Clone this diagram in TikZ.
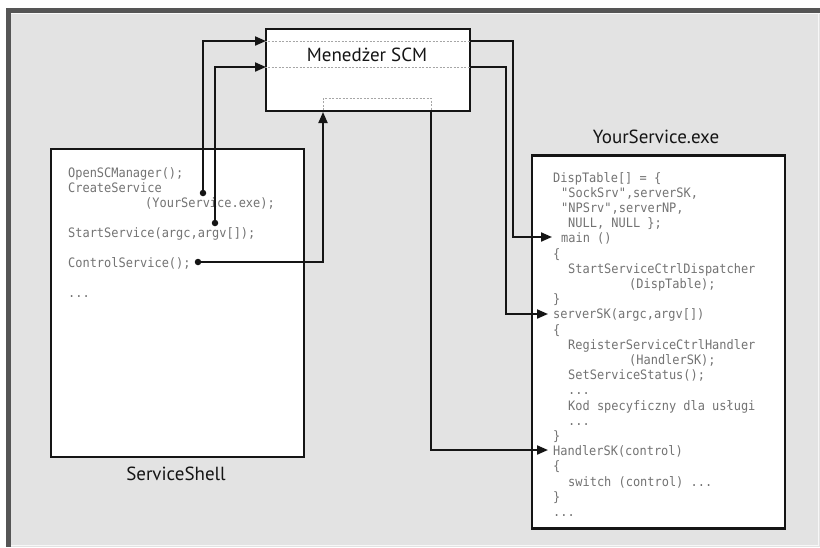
\documentclass[tikz,border=0pt]{standalone}
\usepackage{fontspec}
\setmainfont{PT Sans}
\newfontfamily\codefont[FakeStretch=0.92]{DejaVu Sans Mono}
\usetikzlibrary{arrows.meta}
\definecolor{bgray}{HTML}{E3E3E3}
\definecolor{frame}{HTML}{555555}
\definecolor{codegray}{HTML}{737373}
\definecolor{ink}{HTML}{151515}
\tikzset{
  box/.style={draw=ink, line width=2.6pt, fill=white, inner sep=0pt},
  title/.style={font=\fontsize{19pt}{21pt}\selectfont, text=ink, inner sep=0pt},
  code/.style={font=\codefont\fontsize{13pt}{15pt}\selectfont, text=codegray, inner sep=0pt, anchor=base west},
  conn/.style={draw=ink, line width=2pt, -{Triangle[length=11pt,width=9pt]}},
  dotmark/.style={circle, fill=ink, minimum size=6.5pt, inner sep=0pt},
  dotline/.style={draw=gray!70, line width=0.9pt, dash pattern=on 2pt off 1.5pt}
}
\begin{document}
\begin{tikzpicture}[x=1pt,y=-1pt]
\useasboundingbox (0,0) rectangle (820,547);
% frame
\fill[white] (0,0) rectangle (820,547);
\fill[bgray] (6,8) rectangle (820,547);
\fill[frame] (6,8) rectangle (820,13);
\fill[frame] (6,8) rectangle (11,547);
\draw[white!80!bgray, line width=1pt] (11,13.5) -- (820,13.5);
\draw[white!70!bgray, line width=1pt] (818,13.5) -- (818,545) -- (11,545);

% boxes
\node[box, minimum width=204pt, minimum height=82pt] (scm) at (368,70) {};
\node[box, minimum width=253pt, minimum height=308pt] (shell) at (177.5,303) {};
\node[box, minimum width=253pt, minimum height=373pt] (ys) at (658.5,342) {};

% titles
\node[title] (scmt) at (367,55) {Menedżer SCM};
\node[title] (yst) at (656,137) {YourService.exe};
\node[title] (sst) at (176,474) {ServiceShell};

% dotted lines in SCM
\draw[dotline] (scm.west |- 0,41) -- (scm.east |- 0,41);
\draw[dotline] (scm.west |- 0,67) -- (scm.east |- 0,67);
\draw[dotline] (323,110) |- (431,98) -- (431,110);

% ServiceShell code
\node[code] (s1) at (68,177) {OpenSCManager();};
\node[code] (s2) at (68,192) {CreateService};
\node[code] (s3) at (145,207) {(YourService.exe);};
\node[code] (s4) at (68,237) {StartService(argc,argv[]);};
\node[code] (s5) at (68,267) {ControlService();};
\node[code] (s6) at (68,297) {...};

% YourService code
\node[code] (y1) at (553,182) {DispTable[] = \{};
\node[code] (y2) at (561,197.2) {"SockSrv",serverSK,};
\node[code] (y3) at (561,212.4) {"NPSrv",serverNP,};
\node[code] (y4) at (568,227.6) {NULL, NULL \};};
\node[code] (y5) at (561,242.8) {main ()};
\node[code] (y6) at (553,258) {\{};
\node[code] (y7) at (568,273.2) {StartServiceCtrlDispatcher};
\node[code] (y8) at (629,288.4) {(DispTable);};
\node[code] (y9) at (553,303.6) {\}};
\node[code] (y10) at (553,318.8) {serverSK(argc,argv[])};
\node[code] (y11) at (553,334) {\{};
\node[code] (y12) at (568,349.2) {RegisterServiceCtrlHandler};
\node[code] (y13) at (629,364.4) {(HandlerSK);};
\node[code] (y14) at (568,379.6) {SetServiceStatus();};
\node[code] (y15) at (568,394.8) {...};
\node[code] (y16) at (568,410) {Kod specyficzny dla usługi};
\node[code] (y17) at (568,425.2) {...};
\node[code] (y18) at (553,440.4) {\}};
\node[code] (y19) at (553,455.6) {HandlerSK(control)};
\node[code] (y20) at (553,470.8) {\{};
\node[code] (y21) at (568,486) {switch (control) ...};
\node[code] (y22) at (553,501.2) {\}};
\node[code] (y23) at (553,516.4) {...};

% dots
\node[dotmark] (d1) at (203,193) {};
\node[dotmark] (d2) at (215,223) {};
\node[dotmark] (d3) at (198,262) {};

% connector end points
\coordinate (in1) at (266,41);
\coordinate (in2) at (266,67);
\coordinate (in3) at (323,112);
\coordinate (out1) at (470,41);
\coordinate (out2) at (470,67);
\coordinate (out3) at (431,111);
\coordinate (tmain) at (552,237);
\coordinate (tserv) at (548,314);
\coordinate (thand) at (548,450);

% connectors
\draw[conn] (d1.center) |- (in1);
\draw[conn] (d2.center) |- (in2);
\draw[conn] (d3.center) -| (in3);
\draw[conn] (out1) -- (513,41) |- (tmain);
\draw[conn] (out2) -- (506,67) |- (tserv);
\draw[conn] (out3) |- (thand);
\end{tikzpicture}
\end{document}
